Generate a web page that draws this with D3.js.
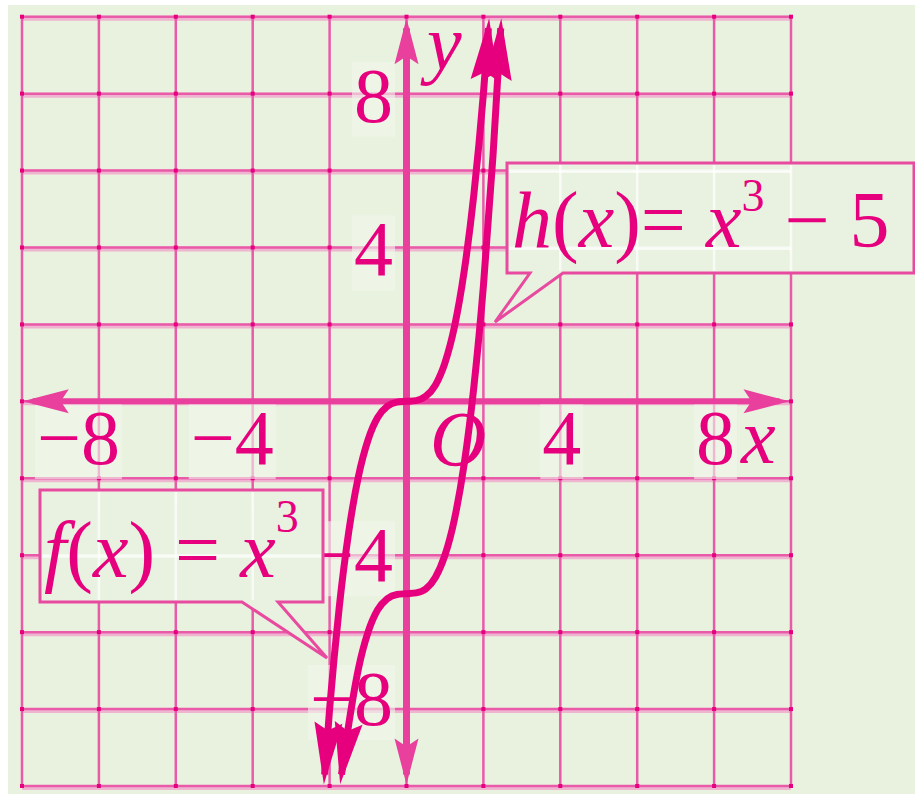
<!DOCTYPE html>
<html>
<head>
<meta charset="utf-8">
<script src="https://cdn.jsdelivr.net/npm/d3@7"></script>
<style>
  body { margin: 0; background: #fff; }
  text { font-family: "Liberation Serif", "DejaVu Serif", serif; fill: #e6007e; }
</style>
</head>
<body>
<div id="chart"></div>
<script>
// grid values, tick labels and curve points
gridVals = [-10, -8, -6, -4, -2, 0, 2, 4, 6, 8, 10]
xTicks = [-8, -4, 4, 8]
yTicks = [8, 4, -4, -8]

fPoints = [[-2.13,-9.7],[-2,-8],[-1.75,-5.36],[-1.5,-3.38],[-1.25,-1.95],[-1,-1],[-0.75,-0.42],
  [-0.5,-0.13],[-0.25,-0.02],[0,0],[0.25,0.02],[0.5,0.13],[0.75,0.42],[1,1],[1.25,1.95],
  [1.5,3.38],[1.75,5.36],[2,8],[2.13,9.7]]
hPoints = [[-1.69,-9.7],[-1.5,-8.38],[-1.25,-6.95],[-1,-6],[-0.75,-5.42],[-0.5,-5.13],[-0.25,-5.02],
  [0,-5],[0.25,-4.98],[0.5,-4.88],[0.75,-4.58],[1,-4],[1.25,-3.05],[1.5,-1.63],[1.75,0.36],
  [2,3],[2.25,6.39],[2.45,9.7]]

width = 915, height = 794
pink = "#e6007e", gridCol = "#e95aa9", axisCol = "#e8409c"

svg = d3.select("#chart").append("svg")
  .attr("width", width).attr("height", height)

x = d3.scaleLinear().domain([-10, 10]).range([22, 791])
y = d3.scaleLinear().domain([-10, 10]).range([786, 16.7])

// background
svg.append("rect").attr("x", 8).attr("y", 5)
  .attr("width", width - 8).attr("height", height - 5)
  .attr("fill", "#e8f2df")

defs = svg.append("defs")
function arrow(id, len, w, col) {
  defs.append("marker")
    .attr("id", id)
    .attr("markerUnits", "userSpaceOnUse")
    .attr("viewBox", `${-len} ${-w} ${len + 14} ${2 * w}`)
    .attr("refX", 0).attr("refY", 0)
    .attr("markerWidth", len + 14).attr("markerHeight", 2 * w)
    .attr("orient", "auto-start-reverse")
    .append("path")
      .attr("d", `M10,0 L${-len + 10},${-w / 2} L${-len + 18},0 L${-len + 10},${w / 2} Z`)
      .attr("fill", col)
}
arrow("axisArrow", 46, 24, axisCol)
arrow("curveArrow", 62, 28, pink)

grid = svg.append("g")
function drawGrid(g, white) {
  g.selectAll(".h").data(gridVals).join("line")
    .attr("x1", x(-10)).attr("x2", x(10))
    .attr("y1", d => y(d) + 1.5).attr("y2", d => y(d) + 1.5)
    .attr("stroke", white ? "#fff" : "#efb4d0").attr("stroke-width", white ? 2 : 5)
    .attr("opacity", white ? 0.7 : 1)
  g.selectAll(".hl").data(gridVals).join("line")
    .attr("x1", x(-10)).attr("x2", x(10))
    .attr("y1", d => y(d)).attr("y2", d => y(d))
    .attr("stroke", white ? "#fff" : gridCol).attr("stroke-width", white ? 2 : 2.5)
    .attr("opacity", white ? 0.7 : 1)
  g.selectAll(".v").data(gridVals).join("line")
    .attr("y1", y(-10)).attr("y2", y(10))
    .attr("x1", d => x(d)).attr("x2", d => x(d))
    .attr("stroke", white ? "#fff" : gridCol).attr("stroke-width", 2.5)
    .attr("opacity", white ? 0.7 : 1)
}
drawGrid(grid, false)

// dark dots at grid crossings
crossings = gridVals.flatMap(a => gridVals.map(b => [a, b]))
grid.selectAll(".dot").data(crossings).join("rect")
  .attr("x", d => x(d[0]) - 2).attr("y", d => y(d[1]) - 2)
  .attr("width", 4).attr("height", 4)
  .attr("fill", pink)

// tick labels with faint boxes behind them
labels = svg.append("g").style("font-size", "78px")
function label(str, px, py, anchor) {
  t = labels.append("text").attr("x", px).attr("y", py)
    .attr("text-anchor", anchor).text(str)
  b = t.node().getBBox()
  labels.insert("rect", "text")
    .attr("x", b.x - 2).attr("y", b.y + 10)
    .attr("width", b.width + 4).attr("height", b.height - 12)
    .attr("fill", "#f2f7ed").attr("opacity", 0.6)
}
xTicks.forEach(t => label(t < 0 ? "\u2212" + (-t) : t, x(t) + 21, 464, "end"))
yOff = {8: 28, 4: 28, "-4": 26, "-8": 16}
yTicks.forEach(t => label(t < 0 ? "\u2212" + (-t) : t, 393, y(t) + yOff[t], "end"))

labels.append("text").attr("x", 427).attr("y", 69)
  .style("font-style", "italic").text("y")
labels.append("text").attr("x", 741).attr("y", 463)
  .style("font-style", "italic").text("x")
labels.append("text").attr("x", 430).attr("y", 465)
  .style("font-style", "italic").text("O")

// axes
svg.append("line")
  .attr("x1", x(-9.72)).attr("x2", x(9.7)).attr("y1", y(0)).attr("y2", y(0))
  .attr("stroke", axisCol).attr("stroke-width", 6)
  .attr("marker-start", "url(#axisArrow)").attr("marker-end", "url(#axisArrow)")
svg.append("line")
  .attr("x1", x(0)).attr("x2", x(0)).attr("y1", y(-9.7)).attr("y2", y(9.7))
  .attr("stroke", axisCol).attr("stroke-width", 7)
  .attr("marker-start", "url(#axisArrow)").attr("marker-end", "url(#axisArrow)")

// curves
line = d3.line().x(d => x(d[0])).y(d => y(d[1])).curve(d3.curveMonotoneX)
;[fPoints, hPoints].forEach(pts => {
  svg.append("path").datum(pts)
    .attr("d", line)
    .attr("fill", "none")
    .attr("stroke", pink).attr("stroke-width", 7)
    .attr("marker-start", "url(#curveArrow)").attr("marker-end", "url(#curveArrow)")
})

// callout boxes
boxes = [
  {x0: 507, y0: 163, x1: 914, y1: 273, p0: 530, p1: 563, tip: [495, 322]},
  {x0: 40, y0: 490, x1: 323, y1: 602, p0: 242, p1: 278, tip: [327, 658]}
]
clip = defs.append("clipPath").attr("id", "boxClip")
boxes.forEach(b => {
  svg.append("path")
    .attr("d", `M${b.x0},${b.y0} H${b.x1} V${b.y1} H${b.p1} L${b.tip[0]},${b.tip[1]} L${b.p0},${b.y1} H${b.x0} Z`)
    .attr("fill", "#e9f2e0")
    .attr("stroke", "#e84a9f").attr("stroke-width", 3)
  clip.append("rect").attr("x", b.x0 + 2).attr("y", b.y0 + 2)
    .attr("width", b.x1 - b.x0 - 4).attr("height", b.y1 - b.y0 - 4)
})
drawGrid(svg.append("g").attr("clip-path", "url(#boxClip)"), true)

// formulas
hText = svg.append("text").attr("x", 512).attr("y", 247).style("font-size", "80px")
hText.append("tspan").style("font-style", "italic").text("h")
hText.append("tspan").text("(")
hText.append("tspan").style("font-style", "italic").text("x")
hText.append("tspan").text(")= ")
hText.append("tspan").style("font-style", "italic").text("x")
hText.append("tspan").attr("dy", -36).style("font-size", "46px").text("3")
hText.append("tspan").attr("dy", 36).text(" \u2212 5")

fText = svg.append("text").attr("x", 44).attr("y", 577).style("font-size", "80px")
fText.append("tspan").style("font-style", "italic").text("f")
fText.append("tspan").text("(")
fText.append("tspan").style("font-style", "italic").text("x")
fText.append("tspan").text(") = ")
fText.append("tspan").style("font-style", "italic").text("x")
fText.append("tspan").attr("dy", -45).style("font-size", "46px").text("3")
</script>
</body>
</html>
